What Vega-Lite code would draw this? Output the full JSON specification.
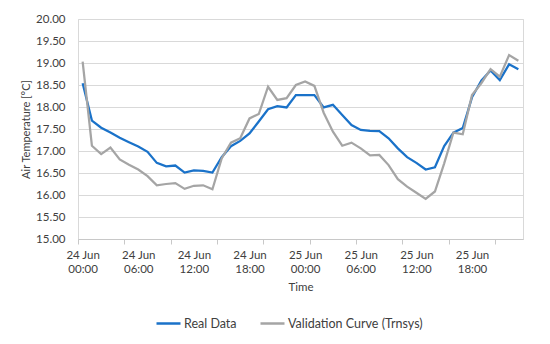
{
  "$schema": "https://vega.github.io/schema/vega-lite/v6.json",
  "width": 445,
  "height": 220,
  "autosize": {"type": "none"},
  "padding": {"left": 78, "top": 19, "right": 27, "bottom": 105},
  "background": "white",
  "config": {"font": "Lato", "view": {"stroke": "#d9d9d9", "strokeWidth": 1}},
  "datasets": {
    "rows": [
      {"time":"2019-06-24T00:00:00Z","series":"Real Data","temp":18.54},
      {"time":"2019-06-24T01:00:00Z","series":"Real Data","temp":17.69},
      {"time":"2019-06-24T02:00:00Z","series":"Real Data","temp":17.53},
      {"time":"2019-06-24T03:00:00Z","series":"Real Data","temp":17.42},
      {"time":"2019-06-24T04:00:00Z","series":"Real Data","temp":17.30},
      {"time":"2019-06-24T05:00:00Z","series":"Real Data","temp":17.20},
      {"time":"2019-06-24T06:00:00Z","series":"Real Data","temp":17.10},
      {"time":"2019-06-24T07:00:00Z","series":"Real Data","temp":16.98},
      {"time":"2019-06-24T08:00:00Z","series":"Real Data","temp":16.73},
      {"time":"2019-06-24T09:00:00Z","series":"Real Data","temp":16.65},
      {"time":"2019-06-24T10:00:00Z","series":"Real Data","temp":16.67},
      {"time":"2019-06-24T11:00:00Z","series":"Real Data","temp":16.51},
      {"time":"2019-06-24T12:00:00Z","series":"Real Data","temp":16.56},
      {"time":"2019-06-24T13:00:00Z","series":"Real Data","temp":16.55},
      {"time":"2019-06-24T14:00:00Z","series":"Real Data","temp":16.51},
      {"time":"2019-06-24T15:00:00Z","series":"Real Data","temp":16.86},
      {"time":"2019-06-24T16:00:00Z","series":"Real Data","temp":17.11},
      {"time":"2019-06-24T17:00:00Z","series":"Real Data","temp":17.23},
      {"time":"2019-06-24T18:00:00Z","series":"Real Data","temp":17.40},
      {"time":"2019-06-24T19:00:00Z","series":"Real Data","temp":17.67},
      {"time":"2019-06-24T20:00:00Z","series":"Real Data","temp":17.95},
      {"time":"2019-06-24T21:00:00Z","series":"Real Data","temp":18.02},
      {"time":"2019-06-24T22:00:00Z","series":"Real Data","temp":17.99},
      {"time":"2019-06-24T23:00:00Z","series":"Real Data","temp":18.27},
      {"time":"2019-06-25T00:00:00Z","series":"Real Data","temp":18.27},
      {"time":"2019-06-25T01:00:00Z","series":"Real Data","temp":18.27},
      {"time":"2019-06-25T02:00:00Z","series":"Real Data","temp":17.99},
      {"time":"2019-06-25T03:00:00Z","series":"Real Data","temp":18.05},
      {"time":"2019-06-25T04:00:00Z","series":"Real Data","temp":17.82},
      {"time":"2019-06-25T05:00:00Z","series":"Real Data","temp":17.59},
      {"time":"2019-06-25T06:00:00Z","series":"Real Data","temp":17.48},
      {"time":"2019-06-25T07:00:00Z","series":"Real Data","temp":17.46},
      {"time":"2019-06-25T08:00:00Z","series":"Real Data","temp":17.45},
      {"time":"2019-06-25T09:00:00Z","series":"Real Data","temp":17.29},
      {"time":"2019-06-25T10:00:00Z","series":"Real Data","temp":17.06},
      {"time":"2019-06-25T11:00:00Z","series":"Real Data","temp":16.86},
      {"time":"2019-06-25T12:00:00Z","series":"Real Data","temp":16.73},
      {"time":"2019-06-25T13:00:00Z","series":"Real Data","temp":16.58},
      {"time":"2019-06-25T14:00:00Z","series":"Real Data","temp":16.63},
      {"time":"2019-06-25T15:00:00Z","series":"Real Data","temp":17.11},
      {"time":"2019-06-25T16:00:00Z","series":"Real Data","temp":17.42},
      {"time":"2019-06-25T17:00:00Z","series":"Real Data","temp":17.52},
      {"time":"2019-06-25T18:00:00Z","series":"Real Data","temp":18.22},
      {"time":"2019-06-25T19:00:00Z","series":"Real Data","temp":18.60},
      {"time":"2019-06-25T20:00:00Z","series":"Real Data","temp":18.83},
      {"time":"2019-06-25T21:00:00Z","series":"Real Data","temp":18.61},
      {"time":"2019-06-25T22:00:00Z","series":"Real Data","temp":18.97},
      {"time":"2019-06-25T23:00:00Z","series":"Real Data","temp":18.86},
      {"time":"2019-06-24T00:00:00Z","series":"Validation Curve (Trnsys)","temp":19.03},
      {"time":"2019-06-24T01:00:00Z","series":"Validation Curve (Trnsys)","temp":17.12},
      {"time":"2019-06-24T02:00:00Z","series":"Validation Curve (Trnsys)","temp":16.93},
      {"time":"2019-06-24T03:00:00Z","series":"Validation Curve (Trnsys)","temp":17.08},
      {"time":"2019-06-24T04:00:00Z","series":"Validation Curve (Trnsys)","temp":16.81},
      {"time":"2019-06-24T05:00:00Z","series":"Validation Curve (Trnsys)","temp":16.69},
      {"time":"2019-06-24T06:00:00Z","series":"Validation Curve (Trnsys)","temp":16.58},
      {"time":"2019-06-24T07:00:00Z","series":"Validation Curve (Trnsys)","temp":16.43},
      {"time":"2019-06-24T08:00:00Z","series":"Validation Curve (Trnsys)","temp":16.22},
      {"time":"2019-06-24T09:00:00Z","series":"Validation Curve (Trnsys)","temp":16.25},
      {"time":"2019-06-24T10:00:00Z","series":"Validation Curve (Trnsys)","temp":16.27},
      {"time":"2019-06-24T11:00:00Z","series":"Validation Curve (Trnsys)","temp":16.14},
      {"time":"2019-06-24T12:00:00Z","series":"Validation Curve (Trnsys)","temp":16.21},
      {"time":"2019-06-24T13:00:00Z","series":"Validation Curve (Trnsys)","temp":16.22},
      {"time":"2019-06-24T14:00:00Z","series":"Validation Curve (Trnsys)","temp":16.13},
      {"time":"2019-06-24T15:00:00Z","series":"Validation Curve (Trnsys)","temp":16.83},
      {"time":"2019-06-24T16:00:00Z","series":"Validation Curve (Trnsys)","temp":17.19},
      {"time":"2019-06-24T17:00:00Z","series":"Validation Curve (Trnsys)","temp":17.29},
      {"time":"2019-06-24T18:00:00Z","series":"Validation Curve (Trnsys)","temp":17.74},
      {"time":"2019-06-24T19:00:00Z","series":"Validation Curve (Trnsys)","temp":17.84},
      {"time":"2019-06-24T20:00:00Z","series":"Validation Curve (Trnsys)","temp":18.46},
      {"time":"2019-06-24T21:00:00Z","series":"Validation Curve (Trnsys)","temp":18.16},
      {"time":"2019-06-24T22:00:00Z","series":"Validation Curve (Trnsys)","temp":18.20},
      {"time":"2019-06-24T23:00:00Z","series":"Validation Curve (Trnsys)","temp":18.50},
      {"time":"2019-06-25T00:00:00Z","series":"Validation Curve (Trnsys)","temp":18.58},
      {"time":"2019-06-25T01:00:00Z","series":"Validation Curve (Trnsys)","temp":18.48},
      {"time":"2019-06-25T02:00:00Z","series":"Validation Curve (Trnsys)","temp":17.87},
      {"time":"2019-06-25T03:00:00Z","series":"Validation Curve (Trnsys)","temp":17.44},
      {"time":"2019-06-25T04:00:00Z","series":"Validation Curve (Trnsys)","temp":17.12},
      {"time":"2019-06-25T05:00:00Z","series":"Validation Curve (Trnsys)","temp":17.19},
      {"time":"2019-06-25T06:00:00Z","series":"Validation Curve (Trnsys)","temp":17.06},
      {"time":"2019-06-25T07:00:00Z","series":"Validation Curve (Trnsys)","temp":16.90},
      {"time":"2019-06-25T08:00:00Z","series":"Validation Curve (Trnsys)","temp":16.91},
      {"time":"2019-06-25T09:00:00Z","series":"Validation Curve (Trnsys)","temp":16.68},
      {"time":"2019-06-25T10:00:00Z","series":"Validation Curve (Trnsys)","temp":16.36},
      {"time":"2019-06-25T11:00:00Z","series":"Validation Curve (Trnsys)","temp":16.19},
      {"time":"2019-06-25T12:00:00Z","series":"Validation Curve (Trnsys)","temp":16.05},
      {"time":"2019-06-25T13:00:00Z","series":"Validation Curve (Trnsys)","temp":15.91},
      {"time":"2019-06-25T14:00:00Z","series":"Validation Curve (Trnsys)","temp":16.08},
      {"time":"2019-06-25T15:00:00Z","series":"Validation Curve (Trnsys)","temp":16.72},
      {"time":"2019-06-25T16:00:00Z","series":"Validation Curve (Trnsys)","temp":17.42},
      {"time":"2019-06-25T17:00:00Z","series":"Validation Curve (Trnsys)","temp":17.38},
      {"time":"2019-06-25T18:00:00Z","series":"Validation Curve (Trnsys)","temp":18.27},
      {"time":"2019-06-25T19:00:00Z","series":"Validation Curve (Trnsys)","temp":18.54},
      {"time":"2019-06-25T20:00:00Z","series":"Validation Curve (Trnsys)","temp":18.86},
      {"time":"2019-06-25T21:00:00Z","series":"Validation Curve (Trnsys)","temp":18.69},
      {"time":"2019-06-25T22:00:00Z","series":"Validation Curve (Trnsys)","temp":19.18},
      {"time":"2019-06-25T23:00:00Z","series":"Validation Curve (Trnsys)","temp":19.05}
    ]
  },
  "data": {"name": "rows"},
  "mark": {"type": "line", "strokeWidth": 2.25},
  "encoding": {
    "x": {
      "field": "time",
      "type": "temporal",
      "scale": {
        "type": "utc",
        "domain": [
          {"year": 2019, "month": 6, "date": 23, "hours": 23, "minutes": 30, "utc": true},
          {"year": 2019, "month": 6, "date": 25, "hours": 23, "minutes": 30, "utc": true}
        ]
      },
      "axis": {
        "title": "Time",
        "titleFontSize": 11.5,
        "titleFontWeight": "normal",
        "titleColor": "#404040",
        "titlePadding": 6,
        "grid": false,
        "domainColor": "#c8c8c8",
        "tickColor": "#c8c8c8",
        "tickSize": 5,
        "tickOpacity": {"condition": {"test": "utcminutes(datum.value) == 30", "value": 1}, "value": 0},
        "labelFontSize": 11.5,
        "labelColor": "#404040",
        "labelPadding": 5,
        "labelLineHeight": 14.5,
        "labelOverlap": false,
        "labelFlush": false,
        "labelBound": false,
        "labelExpr": "utcminutes(datum.value) == 0 ? [utcFormat(datum.value, '%d %b'), utcFormat(datum.value, '%H:%M')] : ''",
        "values": [
          {"year": 2019, "month": 6, "date": 23, "hours": 23, "minutes": 30, "utc": true},
          {"year": 2019, "month": 6, "date": 24, "hours": 0, "minutes": 0, "utc": true},
          {"year": 2019, "month": 6, "date": 24, "hours": 4, "minutes": 30, "utc": true},
          {"year": 2019, "month": 6, "date": 24, "hours": 6, "minutes": 0, "utc": true},
          {"year": 2019, "month": 6, "date": 24, "hours": 9, "minutes": 30, "utc": true},
          {"year": 2019, "month": 6, "date": 24, "hours": 12, "minutes": 0, "utc": true},
          {"year": 2019, "month": 6, "date": 24, "hours": 14, "minutes": 30, "utc": true},
          {"year": 2019, "month": 6, "date": 24, "hours": 18, "minutes": 0, "utc": true},
          {"year": 2019, "month": 6, "date": 24, "hours": 19, "minutes": 30, "utc": true},
          {"year": 2019, "month": 6, "date": 25, "hours": 0, "minutes": 0, "utc": true},
          {"year": 2019, "month": 6, "date": 25, "hours": 0, "minutes": 30, "utc": true},
          {"year": 2019, "month": 6, "date": 25, "hours": 5, "minutes": 30, "utc": true},
          {"year": 2019, "month": 6, "date": 25, "hours": 6, "minutes": 0, "utc": true},
          {"year": 2019, "month": 6, "date": 25, "hours": 10, "minutes": 30, "utc": true},
          {"year": 2019, "month": 6, "date": 25, "hours": 12, "minutes": 0, "utc": true},
          {"year": 2019, "month": 6, "date": 25, "hours": 15, "minutes": 30, "utc": true},
          {"year": 2019, "month": 6, "date": 25, "hours": 18, "minutes": 0, "utc": true},
          {"year": 2019, "month": 6, "date": 25, "hours": 20, "minutes": 30, "utc": true}
        ]
      }
    },
    "y": {
      "field": "temp",
      "type": "quantitative",
      "scale": {"domain": [15, 20], "nice": false, "zero": false},
      "axis": {
        "title": "Air Temperature [°C]",
        "titleFontSize": 11,
        "titleFontWeight": "normal",
        "titleColor": "#404040",
        "titlePadding": 4,
        "values": [15, 15.5, 16, 16.5, 17, 17.5, 18, 18.5, 19, 19.5, 20],
        "format": ".2f",
        "domain": false,
        "ticks": false,
        "labelPadding": 13,
        "labelFontSize": 11.5,
        "labelColor": "#404040",
        "gridColor": "#d9d9d9",
        "gridWidth": 1
      }
    },
    "color": {
      "field": "series",
      "type": "nominal",
      "scale": {"domain": ["Real Data", "Validation Curve (Trnsys)"], "range": ["#1a72c9", "#a5a5a5"]},
      "legend": {
        "title": null,
        "orient": "none",
        "direction": "horizontal",
        "legendX": 77,
        "legendY": 291,
        "symbolType": "stroke",
        "symbolSize": 576,
        "symbolStrokeWidth": 2.5,
        "labelFontSize": 12.5,
        "labelColor": "#404040",
        "labelOffset": 2,
        "columnPadding": 18
      }
    }
  }
}
